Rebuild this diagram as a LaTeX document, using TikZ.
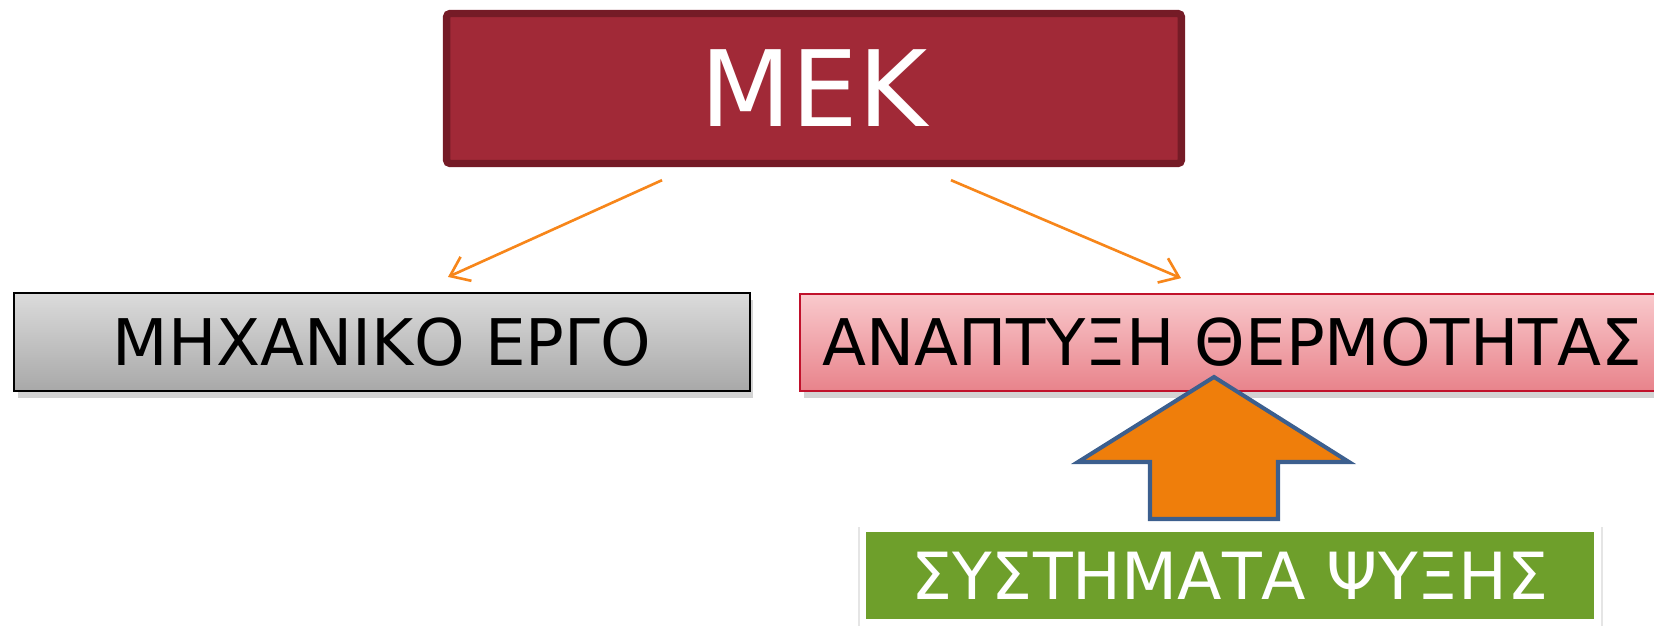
\documentclass[tikz,border=0pt]{standalone}
\usepackage{fontspec}
\setmainfont{DejaVu Sans}
\usetikzlibrary{arrows.meta,shadows}

\definecolor{mekfill}{HTML}{A12937}
\definecolor{mekline}{HTML}{751B26}
\definecolor{pinktop}{HTML}{F9C9CC}
\definecolor{pinkbot}{HTML}{E8838B}
\definecolor{pinkline}{HTML}{C0112B}
\definecolor{greenfill}{HTML}{6E9F2B}
\definecolor{arrowfill}{HTML}{EF7E0B}
\definecolor{arrowline}{HTML}{3C5F8E}
\definecolor{connline}{HTML}{F7861A}

\begin{document}
\begin{tikzpicture}[x=0.02cm, y=-0.02cm,
  box/.style={rectangle, inner sep=0pt, font=\fontsize{36.6}{40}\selectfont},
  boxshadow/.style={drop shadow={opacity=0.35, shadow xshift=2pt, shadow yshift=-4pt}},
  conn/.style={-{Straight Barb[length=10pt,width=15pt]}, line width=1.5pt, connline}]

\useasboundingbox (0,0) rectangle (1654,626);

% --- top box ---
\node (mek) [rectangle, draw=mekline, fill=mekfill, line width=4.2pt, rounded corners=2pt,
  minimum width=14.7cm, minimum height=3.0cm, text=white,
  font=\fontsize{60}{64}\selectfont] at (814,88.5) {ΜΕΚ};

% --- the two results ---
\node (ergo) [box, boxshadow, draw=black, line width=1.2pt, top color=gray!28, bottom color=gray!68,
  minimum width=14.72cm, minimum height=1.96cm] at (382,342) {ΜΗΧΑΝΙΚΟ ΕΡΓΟ};
\node (thermo) [box, boxshadow, draw=pinkline, line width=1pt, top color=pinktop, bottom color=pinkbot,
  minimum width=17.3cm, minimum height=1.94cm] at (1232.5,342.5) {ΑΝΑΠΤΥΞΗ ΘΕΡΜΟΤΗΤΑΣ};

\draw[conn] ([xshift=-3.04cm, yshift=-0.26cm]mek.south) -- ([xshift=1.32cm, yshift=0.3cm]ergo.north);
\draw[conn] ([xshift=2.74cm, yshift=-0.26cm]mek.south) -- ([xshift=-1.03cm, yshift=0.3cm]thermo.north);

% --- cooling ---
\draw[gray!20, line width=0.6pt] (859,527) -- (859,626) (1602,527) -- (1602,626);
\node (psyxi) [box, fill=greenfill, text=white, font=\fontsize{37}{40}\selectfont,
  minimum width=14.56cm, minimum height=1.74cm] at (1230,575.5) {ΣΥΣΤΗΜΑΤΑ ΨΥΞΗΣ};

\draw[fill=arrowfill, draw=arrowline, line width=2.3pt, line join=miter]
  (1214,377) -- (1349,462) -- (1278,462) -- (1278,519) -- (1150,519) -- (1150,462) -- (1078,462) -- cycle;

\end{tikzpicture}
\end{document}
